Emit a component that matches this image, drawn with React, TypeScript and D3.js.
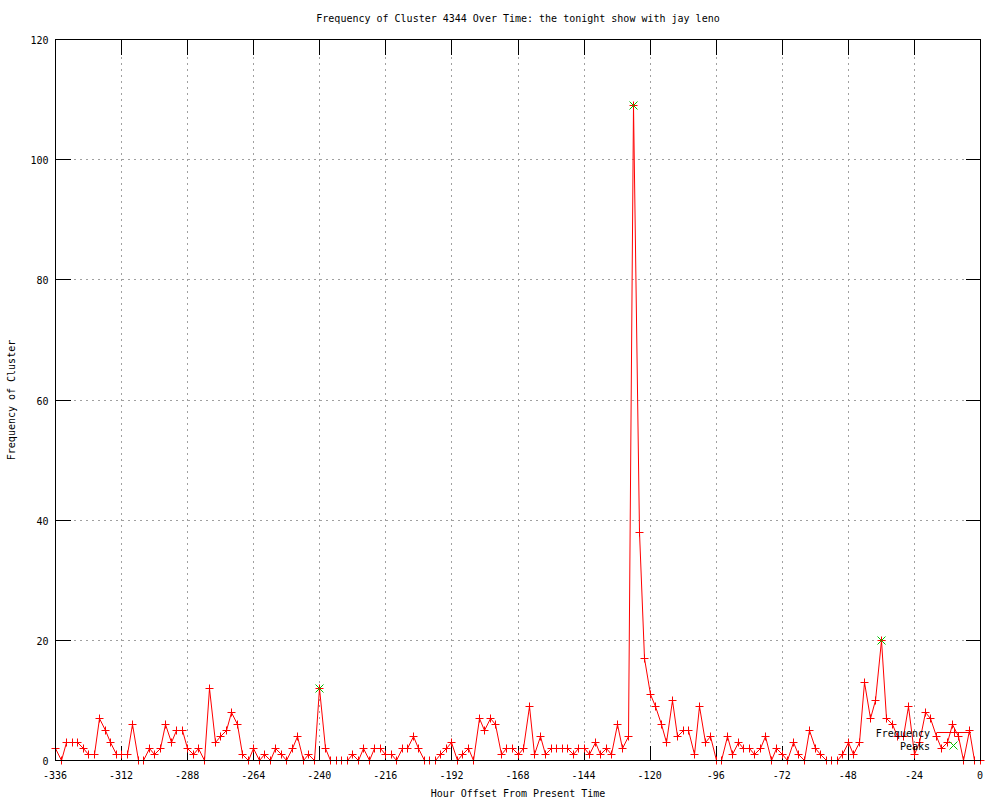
import * as d3 from 'd3'

// hourly offset (every 2 hours) from -336 to 0
const hours: number[] = d3.range(-336, 1, 2)

const frequency: number[] = [
  2, 0, 3, 3, 3, 2, 1, 1, 7, 5, 3, 1, 1, 1, 6, 0, 0, 2, 1, 2,
  6, 3, 5, 5, 2, 1, 2, 0, 12, 3, 4, 5, 8, 6, 1, 0, 2, 0, 1, 0,
  2, 1, 0, 2, 4, 0, 1, 0, 12, 2, 0, 0, 0, 0, 1, 0, 2, 0, 2, 2,
  1, 1, 0, 2, 2, 4, 2, 0, 0, 0, 1, 2, 3, 0, 1, 2, 0, 7, 5, 7,
  6, 1, 2, 2, 1, 2, 9, 1, 4, 1, 2, 2, 2, 2, 1, 2, 2, 1, 3, 1,
  2, 1, 6, 2, 4, 109, 38, 17, 11, 9, 6, 3, 10, 4, 5, 5, 1, 9, 3, 4,
  0, 0, 4, 1, 3, 2, 2, 1, 2, 4, 0, 2, 1, 0, 3, 1, 0, 5, 2, 1,
  0, 0, 0, 1, 3, 1, 3, 13, 7, 10, 20, 7, 6, 4, 4, 9, 1, 3, 8, 7,
  4, 2, 3, 6, 4, 0, 5, 0, 0,
]

const peakHours: number[] = [-240, -126, -36]
const peakValues: number[] = [12, 109, 20]

const xTicks: number[] = d3.range(-336, 1, 24)
const yTicks: number[] = [0, 20, 40, 60, 80, 100, 120]

const title = 'Frequency of Cluster 4344 Over Time: the tonight show with jay leno'
const xLabel = 'Hour Offset From Present Time'
const yLabel = 'Frequency of Cluster'

const W = 1000
const H = 800
const margin = { left: 55, right: 20, top: 39, bottom: 40 }
const font = '"DejaVu Sans Mono", monospace'
const tic = 15

export default function App() {
  const x = d3.scaleLinear().domain([-336, 0]).range([margin.left, W - margin.right])
  const y = d3.scaleLinear().domain([0, 120]).range([H - margin.bottom, margin.top])
  const px = (v: number) => Math.round(x(v)) + 0.5
  const py = (v: number) => Math.round(y(v)) + 0.5

  const pts = hours.map((h, i) => [px(h), py(frequency[i])] as [number, number])
  const line = d3.line()(pts) || ''

  const x0 = px(-336)
  const x1 = px(0)
  const y0 = py(0)
  const y1 = py(120)

  const plus = (cx: number, cy: number, key: string, color: string) => (
    <path key={key} d={`M${cx - 4},${cy}H${cx + 4}M${cx},${cy - 4}V${cy + 4}`} stroke={color} strokeWidth={1} fill="none" />
  )
  const cross = (cx: number, cy: number, key: string, color: string) => (
    <path key={key} d={`M${cx - 4},${cy - 4}L${cx + 4},${cy + 4}M${cx - 4},${cy + 4}L${cx + 4},${cy - 4}`} stroke={color} strokeWidth={1} fill="none" />
  )

  return (
    <svg width={W} height={H} style={{ position: 'absolute', left: 0, top: 0, background: '#fff' }} fontFamily={font} fontSize={10}>
      <rect width={W} height={H} fill="#fff" />

      {/* grid */}
      <g stroke="#a0a0a0" strokeDasharray="2,4" shapeRendering="crispEdges">
        {xTicks.filter(t => t !== -336 && t !== 0).map(t => (
          <line key={'gx' + t} x1={px(t)} x2={px(t)} y1={y0} y2={y1} />
        ))}
        {yTicks.filter(t => t !== 0 && t !== 120).map(t => (
          <line key={'gy' + t} x1={x0} x2={x1} y1={py(t)} y2={py(t)} />
        ))}
      </g>

      {/* ticks */}
      <g stroke="#000" shapeRendering="crispEdges">
        {xTicks.map(t => (
          <g key={'tx' + t}>
            <line x1={px(t)} x2={px(t)} y1={y0} y2={y0 - tic} />
            <line x1={px(t)} x2={px(t)} y1={y1} y2={y1 + tic} />
          </g>
        ))}
        {yTicks.map(t => (
          <g key={'ty' + t}>
            <line x1={x0} x2={x0 + tic} y1={py(t)} y2={py(t)} />
            <line x1={x1} x2={x1 - tic} y1={py(t)} y2={py(t)} />
          </g>
        ))}
      </g>

      {/* tick labels */}
      <g fill="#000">
        {xTicks.map(t => (
          <text key={'lx' + t} x={x(t)} y={y0 + 18} textAnchor="middle">{t}</text>
        ))}
        {yTicks.map(t => (
          <text key={'ly' + t} x={x0 - 7} y={py(t) + 4} textAnchor="end">{t}</text>
        ))}
      </g>

      {/* data */}
      <path d={line} fill="none" stroke="#ff0000" strokeWidth={1} />
      {pts.map((p, i) => plus(p[0], p[1], 'p' + i, '#ff0000'))}
      {peakHours.map((h, i) => cross(px(h), py(peakValues[i]), 'k' + i, '#00c000'))}

      {/* legend */}
      <text x={930} y={737} textAnchor="end" fill="#000">Frequency</text>
      <line x1={937} x2={971} y1={732.5} y2={732.5} stroke="#ff0000" />
      {plus(954.5, 732.5, 'lg1', '#ff0000')}
      <text x={930} y={750} textAnchor="end" fill="#000">Peaks</text>
      {cross(953.5, 745.5, 'lg2', '#00c000')}

      {/* border */}
      <rect x={x0} y={y1} width={x1 - x0} height={y0 - y1} fill="none" stroke="#000" shapeRendering="crispEdges" />

      {/* titles */}
      <text x={(x0 + x1) / 2} y={22} textAnchor="middle" fill="#000">{title}</text>
      <text x={(x0 + x1) / 2} y={797} textAnchor="middle" fill="#000">{xLabel}</text>
      <text transform={`translate(15,${(y0 + y1) / 2}) rotate(-90)`} textAnchor="middle" fill="#000">{yLabel}</text>
    </svg>
  )
}
